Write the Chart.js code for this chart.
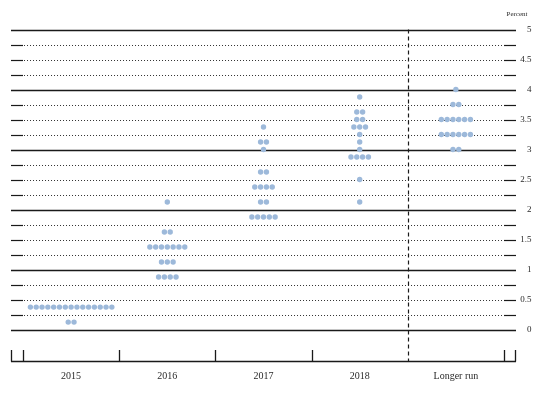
<!DOCTYPE html>
<html>
<head>
<meta charset="utf-8">
<script src="https://cdn.jsdelivr.net/npm/chart.js@4.4.1/dist/chart.umd.min.js"></script>
<style>
  html, body { margin: 0; padding: 0; background: #ffffff; }
  #wrap { width: 549px; height: 396px; position: relative; }
</style>
</head>
<body>
<div id="wrap"><canvas id="c" width="549" height="396"></canvas></div>
<script>
// ---- Data (FOMC participants' projections) ----
const categories = ['2015', '2016', '2017', '2018', 'Longer run'];

const levels2015 = [0.125, 0.375];
const counts2015 = [2, 15];

const levels2016 = [0.875, 1.125, 1.375, 1.625, 2.125];
const counts2016 = [4, 3, 7, 2, 1];

const levels2017 = [1.875, 2.125, 2.375, 2.625, 3.0, 3.125, 3.375];
const counts2017 = [5, 2, 4, 2, 1, 2, 1];

const levels2018 = [2.125, 2.5, 2.875, 3.0, 3.125, 3.25, 3.375, 3.5, 3.625, 3.875];
const counts2018 = [1, 1, 4, 1, 1, 1, 3, 2, 2, 1];

const levelsLR = [3.0, 3.25, 3.5, 3.75, 4.0];
const countsLR = [2, 6, 6, 2, 1];

const yTickValues = [0, 0.5, 1, 1.5, 2, 2.5, 3, 3.5, 4, 4.5, 5];
const yTickLabels = ['0', '0.5', '1', '1.5', '2', '2.5', '3', '3.5', '4', '4.5', '5'];
const yUnitLabel = 'Percent';

// ---- Build points ----
const allLevels = [levels2015, levels2016, levels2017, levels2018, levelsLR];
const allCounts = [counts2015, counts2016, counts2017, counts2018, countsLR];
const DOT_STEP = 0.0605; // horizontal spacing of dots in category units
const points = [];
allLevels.forEach((lv, ci) => {
  lv.forEach((v, k) => {
    const n = allCounts[ci][k];
    for (let j = 0; j < n; j++) {
      points.push({ x: ci + (j - (n - 1) / 2) * DOT_STEP, y: v });
    }
  });
});

const SERIF = '"Liberation Serif", "DejaVu Serif", serif';

const dotPlotDecor = {
  id: 'dotPlotDecor',
  beforeDatasetsDraw(chart) {
    const ctx = chart.ctx;
    const xs = chart.scales.x, ys = chart.scales.y;
    const left = xs.left, right = xs.right;
    const segL = xs.getPixelForValue(-0.5);
    const segR = xs.getPixelForValue(categories.length - 0.5);
    ctx.save();
    // horizontal gridlines every 0.25
    for (let i = 0; i <= 20; i++) {
      const v = i * 0.25;
      const y = Math.round(ys.getPixelForValue(v)) + 0.5;
      ctx.strokeStyle = '#1a1a1a';
      if (i % 4 === 0) {
        ctx.lineWidth = 1.3;
        ctx.setLineDash([]);
        ctx.beginPath(); ctx.moveTo(left, y); ctx.lineTo(right, y); ctx.stroke();
      } else {
        ctx.lineWidth = 1.2;
        ctx.setLineDash([]);
        ctx.beginPath(); ctx.moveTo(left, y); ctx.lineTo(segL, y); ctx.stroke();
        ctx.beginPath(); ctx.moveTo(segR, y); ctx.lineTo(right, y); ctx.stroke();
        ctx.lineWidth = 1;
        ctx.setLineDash([1, 2]);
        ctx.strokeStyle = '#333';
        ctx.beginPath(); ctx.moveTo(segL + 1, y); ctx.lineTo(segR - 1, y); ctx.stroke();
      }
    }
    ctx.setLineDash([]);
    // bottom axis
    const yb = Math.round(ys.bottom) + 0.5;
    const yTickTop = ys.getPixelForValue(-0.34);
    ctx.strokeStyle = '#1a1a1a';
    ctx.lineWidth = 1.3;
    ctx.beginPath(); ctx.moveTo(left, yb); ctx.lineTo(right, yb); ctx.stroke();
    const tickVals = [xs.min, -0.5, 0.5, 1.5, 2.5, 4.5, xs.max];
    tickVals.forEach(t => {
      const x = Math.round(xs.getPixelForValue(t)) + 0.5;
      const xx = t === xs.min ? Math.round(left) + 0.5 : (t === xs.max ? Math.round(right) - 0.5 : x);
      ctx.beginPath(); ctx.moveTo(xx, yb); ctx.lineTo(xx, yTickTop); ctx.stroke();
    });
    // dashed separator before "Longer run"
    const xd = Math.round(xs.getPixelForValue(3.5)) + 0.5;
    ctx.lineWidth = 1.2;
    ctx.setLineDash([4, 3]);
    ctx.beginPath(); ctx.moveTo(xd, ys.getPixelForValue(5)); ctx.lineTo(xd, yb); ctx.stroke();
    ctx.setLineDash([]);
    // right tick labels
    ctx.fillStyle = '#2a2a2a';
    ctx.font = '9px ' + SERIF;
    ctx.textAlign = 'right';
    ctx.textBaseline = 'middle';
    yTickValues.forEach((v, i) => {
      ctx.fillText(yTickLabels[i], right + 15.5, ys.getPixelForValue(v) + 0.5);
    });
    ctx.font = '7px ' + SERIF;
    ctx.textAlign = 'center';
    ctx.fillText(yUnitLabel, right + 1, ys.getPixelForValue(5) - 15);
    // category labels
    ctx.font = '10px ' + SERIF;
    ctx.textAlign = 'center';
    ctx.textBaseline = 'middle';
    categories.forEach((c, i) => {
      ctx.fillText(c, xs.getPixelForValue(i), yb + 15);
    });
    ctx.restore();
  }
};

new Chart(document.getElementById('c'), {
  type: 'scatter',
  data: {
    datasets: [{
      data: points,
      backgroundColor: '#9db9da',
      borderColor: '#9db9da',
      borderWidth: 0,
      pointRadius: 2.7,
      pointHoverRadius: 2.7
    }]
  },
  options: {
    responsive: false,
    animation: false,
    events: [],
    layout: { padding: { left: 11, right: 33, top: 29.5, bottom: 35.5 } },
    plugins: { legend: { display: false }, tooltip: { enabled: false } },
    scales: {
      x: { type: 'linear', min: -0.625, max: 4.625, display: false },
      y: { type: 'linear', min: -0.515, max: 5, display: false }
    }
  },
  plugins: [dotPlotDecor]
});
</script>
</body>
</html>
